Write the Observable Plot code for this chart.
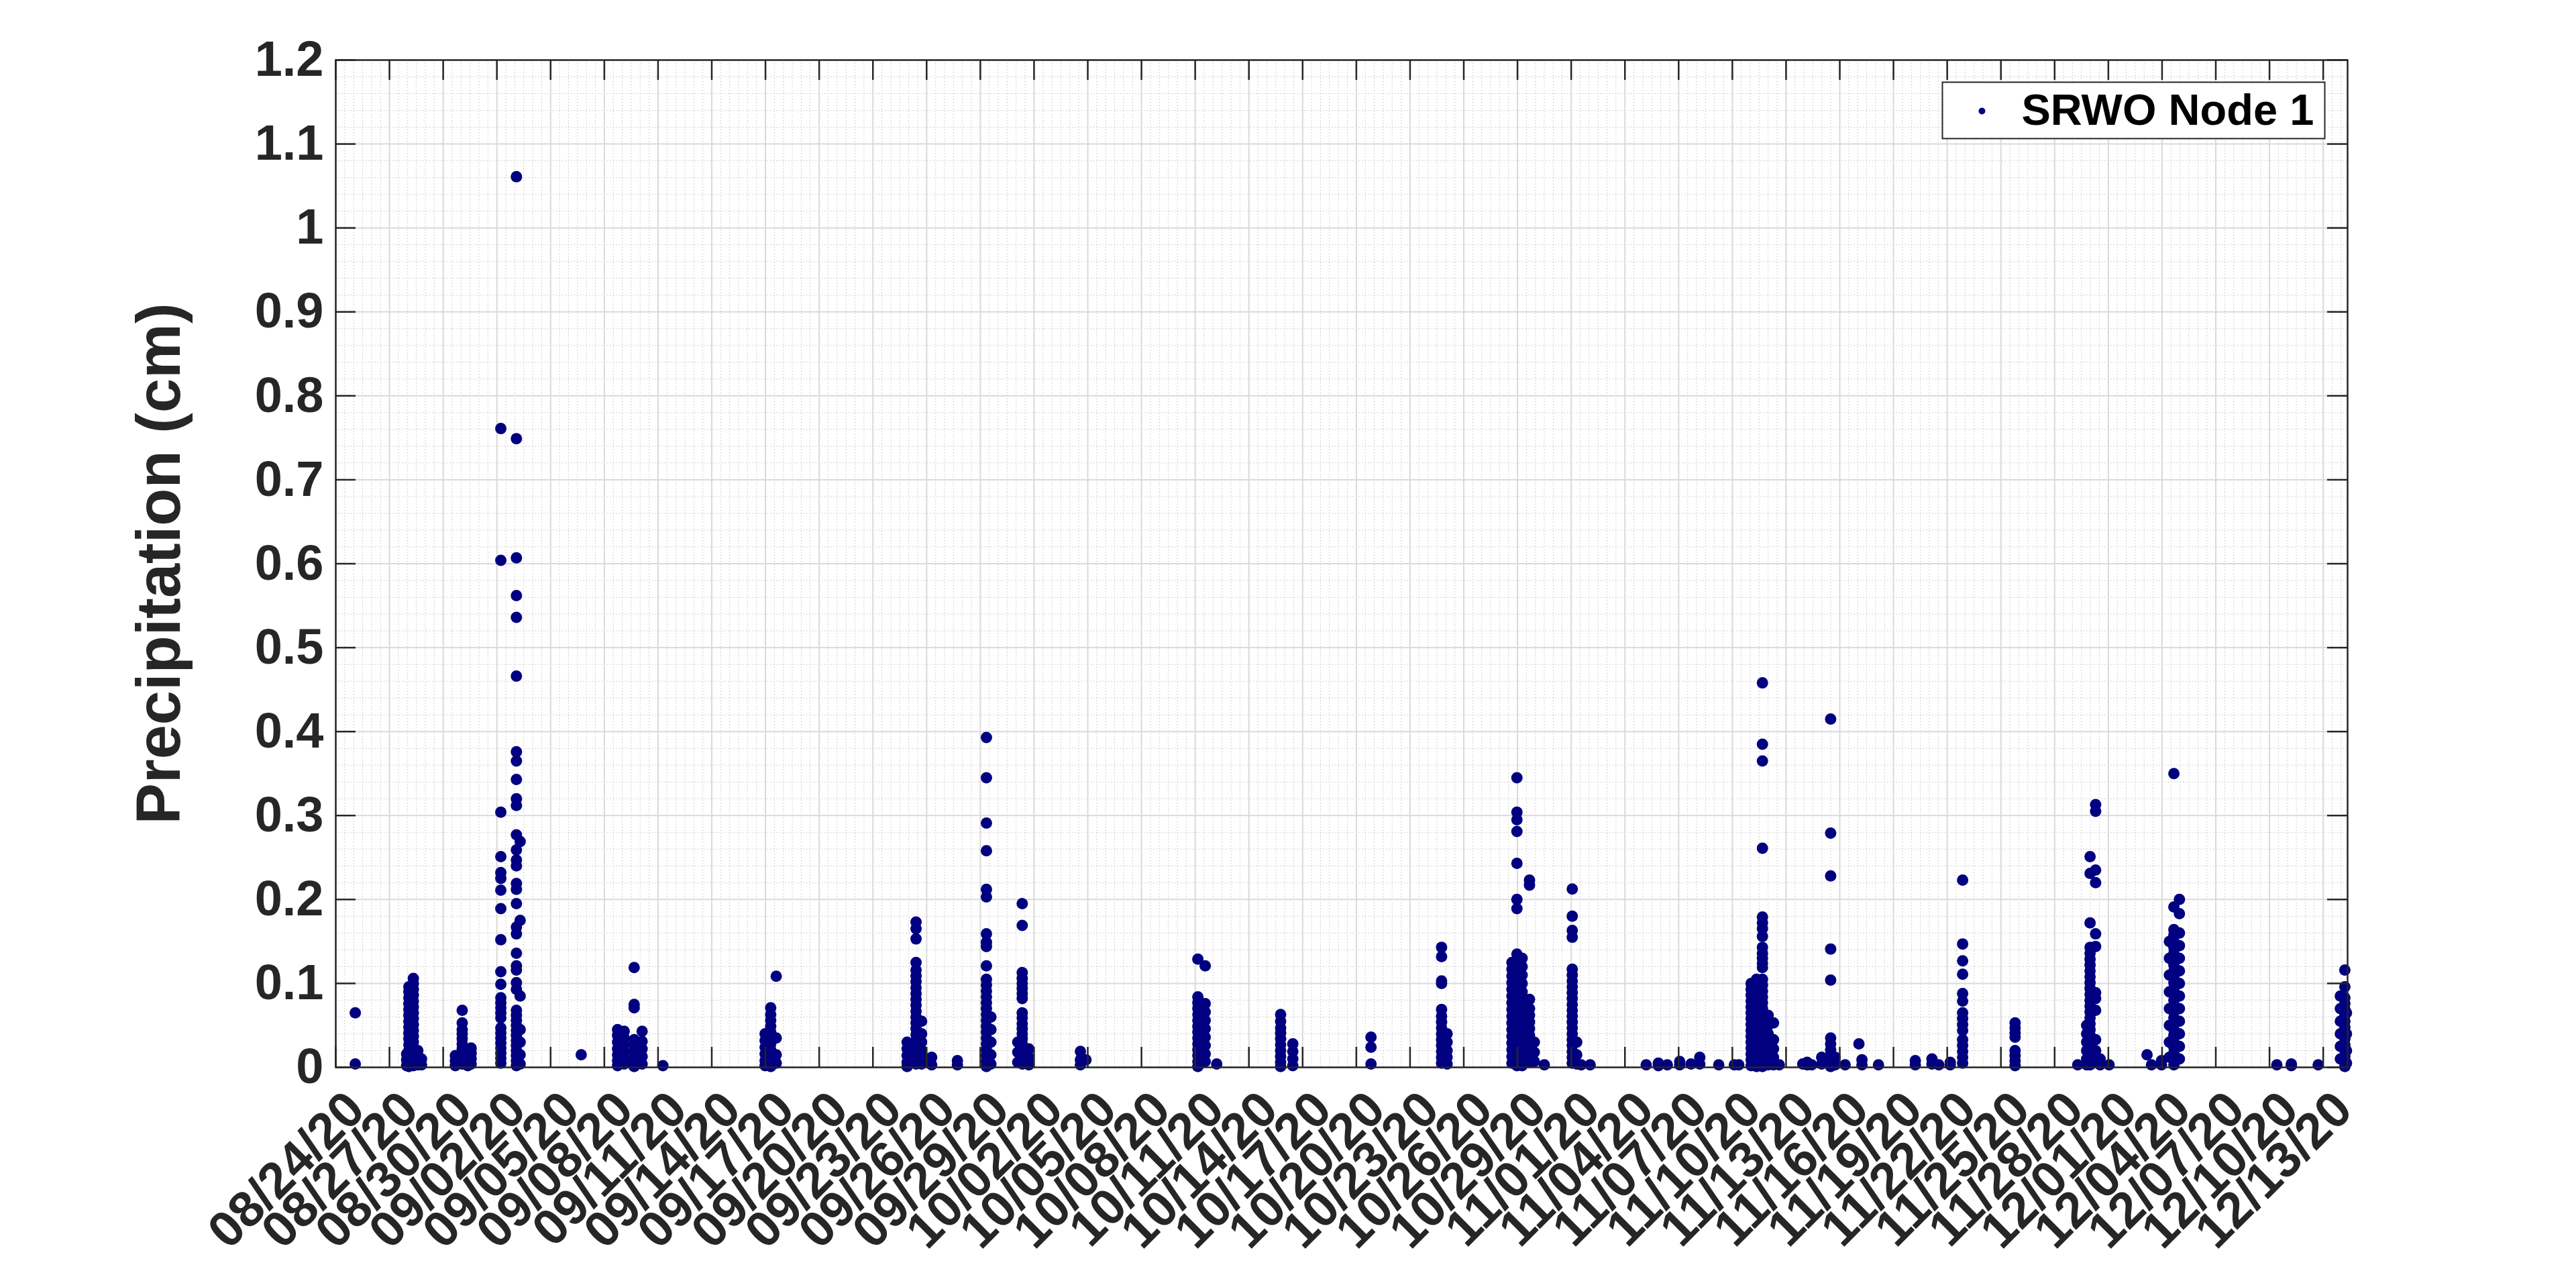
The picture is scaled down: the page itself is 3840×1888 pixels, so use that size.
<!DOCTYPE html>
<html><head><meta charset="utf-8">
<script src="https://cdn.jsdelivr.net/npm/d3@7"></script>
<script src="https://cdn.jsdelivr.net/npm/@observablehq/plot@0.6"></script>
<style>html,body{margin:0;padding:0;background:#fff;overflow:hidden;}</style>
</head><body><div id="chart"></div>
<script>
// ---------------- DATA ----------------
const seriesName = "SRWO Node 1";
const yAxisLabel = "Precipitation (cm)";

const augTimes = ["2020-08-25T02:10","2020-08-27T23:00","2020-08-28T02:00","2020-08-28T08:00","2020-08-28T14:00","2020-08-28T19:00","2020-08-30T16:20","2020-08-31T01:30","2020-08-31T09:00","2020-08-31T13:30"];
const augValues = [
  [0.065, 0.004],
  [0.002, 0.009, 0.016],
  [0.096, 0.09, 0.083, 0.076, 0.069, 0.062, 0.055, 0.048, 0.041, 0.034, 0.027, 0.02, 0.013, 0.006, 0.001],
  [0.106, 0.1, 0.093, 0.086, 0.079, 0.072, 0.065, 0.058, 0.051, 0.044, 0.037, 0.03, 0.023, 0.016, 0.009, 0.002],
  [0.02, 0.011, 0.003],
  [0.01, 0.003],
  [0.014, 0.008, 0.002],
  [0.068, 0.053, 0.045, 0.04, 0.034, 0.028, 0.022, 0.016, 0.01, 0.004],
  [0.015, 0.008, 0.002],
  [0.023, 0.017, 0.01, 0.004]
];

const sepTimes = ["2020-09-02T05:15","2020-09-03T02:10","2020-09-03T07:10","2020-09-06T17:00","2020-09-08T17:45","2020-09-09T02:40","2020-09-09T16:00","2020-09-10T02:40","2020-09-11T06:30","2020-09-16T23:30","2020-09-17T07:00","2020-09-17T14:25","2020-09-24T21:50","2020-09-25T09:50","2020-09-25T17:15","2020-09-26T06:45","2020-09-27T17:15","2020-09-29T08:10","2020-09-29T14:10"];
const sepValues = [
  [0.761, 0.604, 0.304, 0.251, 0.232, 0.225, 0.211, 0.189, 0.152, 0.114, 0.099, 0.083, 0.077, 0.071, 0.065, 0.059, 0.047, 0.041, 0.035, 0.029, 0.023, 0.017, 0.011, 0.005],
  [1.061, 0.749, 0.607, 0.562, 0.536, 0.466, 0.376, 0.365, 0.343, 0.32, 0.312, 0.277, 0.259, 0.247, 0.24, 0.219, 0.212, 0.195, 0.167, 0.159, 0.136, 0.121, 0.116, 0.101, 0.093, 0.068, 0.062, 0.056, 0.05, 0.044, 0.038, 0.032, 0.026, 0.02, 0.014, 0.008, 0.002],
  [0.269, 0.175, 0.085, 0.045, 0.03, 0.015, 0.004],
  [0.015],
  [0.045, 0.038, 0.03, 0.022, 0.015, 0.008, 0.002],
  [0.043, 0.035, 0.027, 0.019, 0.011, 0.004],
  [0.119, 0.075, 0.071, 0.033, 0.027, 0.02, 0.013, 0.006, 0.001],
  [0.043, 0.031, 0.022, 0.013, 0.004],
  [0.002],
  [0.04, 0.032, 0.024, 0.016, 0.008, 0.002],
  [0.071, 0.063, 0.056, 0.049, 0.042, 0.035, 0.028, 0.021, 0.014, 0.007, 0.001],
  [0.1085, 0.035, 0.015, 0.005],
  [0.03, 0.022, 0.014, 0.006, 0.001],
  [0.173, 0.165, 0.153, 0.125, 0.116, 0.109, 0.102, 0.095, 0.088, 0.081, 0.074, 0.067, 0.06, 0.053, 0.046, 0.039, 0.032, 0.025, 0.018, 0.011, 0.004],
  [0.055, 0.04, 0.03, 0.02, 0.012, 0.004],
  [0.012, 0.003],
  [0.008, 0.003],
  [0.393, 0.345, 0.291, 0.258, 0.212, 0.203, 0.159, 0.149, 0.144, 0.121, 0.105, 0.098, 0.091, 0.084, 0.077, 0.07, 0.063, 0.056, 0.049, 0.042, 0.035, 0.028, 0.021, 0.014, 0.007, 0.001],
  [0.06, 0.045, 0.03, 0.015, 0.004]
];

const octTimes = ["2020-10-01T02:10","2020-10-01T08:10","2020-10-01T17:00","2020-10-04T14:10","2020-10-04T21:35","2020-10-11T03:35","2020-10-11T13:25","2020-10-12T04:50","2020-10-15T18:30","2020-10-16T10:50","2020-10-20T19:40","2020-10-24T18:15","2020-10-25T01:40","2020-10-28T16:35","2020-10-28T23:15","2020-10-29T06:15","2020-10-29T16:05","2020-10-29T22:35","2020-10-30T12:00"];
const octValues = [
  [0.03, 0.018, 0.006],
  [0.195, 0.169, 0.113, 0.106, 0.1, 0.094, 0.088, 0.082, 0.065, 0.059, 0.052, 0.046, 0.04, 0.034, 0.028, 0.022, 0.016, 0.01, 0.004],
  [0.022, 0.012, 0.003],
  [0.019, 0.009, 0.003],
  [0.009],
  [0.129, 0.084, 0.077, 0.07, 0.063, 0.056, 0.049, 0.042, 0.035, 0.028, 0.021, 0.014, 0.007, 0.001],
  [0.121, 0.076, 0.066, 0.056, 0.046, 0.036, 0.026, 0.016, 0.007],
  [0.004],
  [0.063, 0.055, 0.047, 0.041, 0.034, 0.027, 0.02, 0.013, 0.006, 0.001],
  [0.028, 0.019, 0.01, 0.002],
  [0.036, 0.024, 0.004],
  [0.143, 0.132, 0.103, 0.1, 0.069, 0.061, 0.054, 0.047, 0.04, 0.033, 0.026, 0.019, 0.012, 0.005],
  [0.04, 0.03, 0.02, 0.012, 0.004],
  [0.125, 0.117, 0.109, 0.101, 0.093, 0.085, 0.077, 0.069, 0.061, 0.053, 0.045, 0.037, 0.029, 0.021, 0.013, 0.005],
  [0.345, 0.304, 0.295, 0.281, 0.243, 0.2, 0.189, 0.135, 0.128, 0.121, 0.114, 0.107, 0.1, 0.093, 0.086, 0.079, 0.072, 0.065, 0.058, 0.051, 0.044, 0.037, 0.03, 0.023, 0.016, 0.009, 0.002],
  [0.13, 0.12, 0.11, 0.1, 0.09, 0.08, 0.07, 0.06, 0.05, 0.04, 0.03, 0.02, 0.01, 0.002],
  [0.223, 0.217, 0.081, 0.07, 0.062, 0.054, 0.046, 0.038, 0.03, 0.022, 0.014, 0.006],
  [0.03, 0.018, 0.007],
  [0.003]
];

const novTimes = ["2020-11-01T01:25","2020-11-01T07:25","2020-11-01T13:25","2020-11-02T01:25","2020-11-05T04:30","2020-11-05T20:50","2020-11-06T08:50","2020-11-07T01:25","2020-11-07T16:35","2020-11-08T04:20","2020-11-09T05:45","2020-11-10T02:40","2020-11-10T08:40","2020-11-11T01:10","2020-11-11T08:25","2020-11-11T16:20","2020-11-12T00:00","2020-11-12T07:10","2020-11-12T14:50","2020-11-13T22:20","2020-11-14T04:20","2020-11-14T10:20","2020-11-14T23:45","2020-11-15T11:45","2020-11-15T17:45","2020-11-16T07:10","2020-11-17T01:40","2020-11-17T05:45","2020-11-18T03:50","2020-11-20T05:15","2020-11-21T03:35","2020-11-21T12:45","2020-11-22T04:05","2020-11-22T20:40","2020-11-25T19:00","2020-11-29T06:55","2020-11-29T18:55","2020-11-29T23:30","2020-11-30T06:55","2020-11-30T13:00"];
const novValues = [
  [0.2125, 0.18, 0.163, 0.155, 0.117, 0.11, 0.103, 0.096, 0.089, 0.082, 0.075, 0.068, 0.061, 0.054, 0.047, 0.04, 0.033, 0.026, 0.019, 0.012, 0.005],
  [0.03, 0.015, 0.004],
  [0.003],
  [0.003],
  [0.003],
  [0.005, 0.002],
  [0.003],
  [0.007, 0.003],
  [0.004],
  [0.012, 0.004],
  [0.003],
  [0.003],
  [0.003],
  [0.1, 0.093, 0.086, 0.079, 0.072, 0.065, 0.058, 0.051, 0.044, 0.037, 0.03, 0.023, 0.016, 0.009, 0.002],
  [0.105, 0.098, 0.091, 0.084, 0.077, 0.07, 0.063, 0.056, 0.049, 0.042, 0.035, 0.028, 0.021, 0.014, 0.007, 0.001],
  [0.458, 0.385, 0.365, 0.261, 0.179, 0.172, 0.165, 0.156, 0.143, 0.136, 0.13, 0.124, 0.119, 0.105, 0.098, 0.091, 0.084, 0.077, 0.07, 0.063, 0.056, 0.049, 0.042, 0.035, 0.028, 0.021, 0.014, 0.007, 0.001],
  [0.062, 0.05, 0.04, 0.03, 0.02, 0.01, 0.003],
  [0.053, 0.033, 0.022, 0.012, 0.003],
  [0.003],
  [0.004],
  [0.006, 0.003],
  [0.003],
  [0.012, 0.004],
  [0.415, 0.279, 0.228, 0.141, 0.104, 0.035, 0.028, 0.021, 0.014, 0.007, 0.001],
  [0.012, 0.003],
  [0.003],
  [0.028],
  [0.009, 0.003],
  [0.003],
  [0.008, 0.003],
  [0.01, 0.004],
  [0.003],
  [0.006, 0.003],
  [0.223, 0.147, 0.127, 0.111, 0.088, 0.079, 0.065, 0.058, 0.051, 0.044, 0.033, 0.026, 0.019, 0.012, 0.005],
  [0.053, 0.047, 0.041, 0.036, 0.02, 0.014, 0.008, 0.002],
  [0.003],
  [0.05, 0.04, 0.03, 0.02, 0.01, 0.003],
  [0.251, 0.231, 0.172, 0.143, 0.136, 0.129, 0.122, 0.115, 0.108, 0.101, 0.094, 0.087, 0.08, 0.073, 0.066, 0.059, 0.052, 0.045, 0.038, 0.031, 0.024, 0.017, 0.01, 0.003],
  [0.313, 0.305, 0.235, 0.22, 0.159, 0.144, 0.089, 0.082, 0.068, 0.033, 0.02, 0.008],
  [0.01, 0.003]
];

const decTimes = ["2020-12-01T01:00","2020-12-03T03:50","2020-12-03T09:50","2020-12-03T23:15","2020-12-04T09:50","2020-12-04T15:50","2020-12-04T23:15","2020-12-10T09:50","2020-12-11T05:15","2020-12-12T17:15","2020-12-13T23:00","2020-12-14T05:00","2020-12-14T07:10"];
const decValues = [
  [0.003],
  [0.015],
  [0.003],
  [0.008, 0.003],
  [0.15, 0.13, 0.11, 0.09, 0.07, 0.05, 0.03, 0.012],
  [0.35, 0.191, 0.164, 0.157, 0.15, 0.143, 0.136, 0.129, 0.122, 0.115, 0.108, 0.101, 0.094, 0.087, 0.08, 0.073, 0.066, 0.059, 0.052, 0.045, 0.038, 0.031, 0.024, 0.017, 0.01, 0.003],
  [0.2, 0.183, 0.16, 0.145, 0.13, 0.115, 0.1, 0.085, 0.07, 0.055, 0.04, 0.025, 0.01],
  [0.003],
  [0.004, 0.002],
  [0.003],
  [0.085, 0.07, 0.055, 0.04, 0.025, 0.01],
  [0.116, 0.096, 0.083, 0.076, 0.069, 0.062, 0.055, 0.048, 0.041, 0.034, 0.027, 0.02, 0.013, 0.006, 0.001],
  [0.065, 0.04, 0.02, 0.005]
];

const xTickLabels = ["08/24/20","08/27/20","08/30/20","09/02/20","09/05/20","09/08/20","09/11/20","09/14/20","09/17/20","09/20/20","09/23/20","09/26/20","09/29/20","10/02/20","10/05/20","10/08/20","10/11/20","10/14/20","10/17/20","10/20/20","10/23/20","10/26/20","10/29/20","11/01/20","11/04/20","11/07/20","11/10/20","11/13/20","11/16/20","11/19/20","11/22/20","11/25/20","11/28/20","12/01/20","12/04/20","12/07/20","12/10/20","12/13/20"];
const yTickValues = [0, 0.1, 0.2, 0.3, 0.4, 0.5, 0.6, 0.7, 0.8, 0.9, 1, 1.1, 1.2];
const yTickLabels = ["0","0.1","0.2","0.3","0.4","0.5","0.6","0.7","0.8","0.9","1","1.1","1.2"];
const xLimits = ["2020-08-24T00:00","2020-12-14T08:40"];
const yLimits = [0, 1.2];

// ---------------- BUILD ----------------
const parseT = s => new Date(s + ":00Z");
const points = [];
[[augTimes, augValues],[sepTimes, sepValues],[octTimes, octValues],[novTimes, novValues],[decTimes, decValues]]
  .forEach(([ts, vs]) => ts.forEach((t, i) => vs[i].forEach(v => points.push({date: parseT(t), value: v}))));

const parseLabel = d3.utcParse("%m/%d/%y");
const xTicks = xTickLabels.map(parseLabel);
const xDomain = xLimits.map(parseT);
const majorSet = new Set(xTicks.map(d => +d));
const minorX = d3.utcHour.every(12).range(xDomain[0], xDomain[1]).filter(d => !majorSet.has(+d));
const minorY = d3.range(1, 60).filter(i => i % 5 !== 0).map(i => i * 0.02);

const W = 3840, H = 1888, ML = 500, MR = 341, MT = 89, MB = 298;
const innerW = W - ML - MR, innerH = H - MT - MB;
const axisColor = "#262626";
const dotColor = "#000080";
const font = "'Liberation Sans', Arial, Helvetica, sans-serif";

const chart = Plot.plot({
  width: W, height: H,
  marginLeft: ML, marginRight: MR, marginTop: MT, marginBottom: MB,
  style: {background: "#ffffff", fontFamily: font, color: axisColor, overflow: "visible"},
  x: {type: "utc", domain: xDomain, axis: null},
  y: {type: "linear", domain: yLimits, axis: null},
  marks: [
    Plot.ruleX(minorX, {stroke: "#c4c4c4", strokeWidth: 1, strokeDasharray: "1.5,3"}),
    Plot.ruleY(minorY, {stroke: "#c4c4c4", strokeWidth: 1, strokeDasharray: "1.5,3"}),
    Plot.ruleX(xTicks, {stroke: "#dadada", strokeWidth: 2}),
    Plot.ruleY(yTickValues, {stroke: "#dadada", strokeWidth: 2}),
    Plot.dot(points, {x: "date", y: "value", r: 8.5, fill: dotColor, stroke: null}),
    Plot.frame({stroke: axisColor, strokeWidth: 2.5}),
    Plot.tickX(xTicks, {x: d => d, insetTop: innerH - 30, stroke: axisColor, strokeWidth: 2.5}),
    Plot.tickX(xTicks, {x: d => d, insetBottom: innerH - 30, stroke: axisColor, strokeWidth: 2.5}),
    Plot.tickY(yTickValues, {y: d => d, insetRight: innerW - 30, stroke: axisColor, strokeWidth: 2.5}),
    Plot.tickY(yTickValues, {y: d => d, insetLeft: innerW - 30, stroke: axisColor, strokeWidth: 2.5}),
    Plot.text(yTickValues, {y: d => d, frameAnchor: "left", text: (d, i) => yTickLabels[i], textAnchor: "end", lineAnchor: "middle", dx: -18, fontSize: 74, fontWeight: "bold", fill: axisColor}),
    Plot.text(xTicks, {x: d => d, frameAnchor: "bottom", text: (d, i) => xTickLabels[i], rotate: -45, textAnchor: "end", lineAnchor: "middle", dx: 30, dy: 50, fontSize: 75, fontWeight: "bold", fill: axisColor}),
    Plot.text([yAxisLabel], {frameAnchor: "left", dx: -262, rotate: -90, textAnchor: "middle", lineAnchor: "middle", fontSize: 92, fontWeight: "bold", fill: axisColor}),
    Plot.frame({insetLeft: 2895 - ML, insetRight: (W - MR) - 3465, insetTop: 122 - MT, insetBottom: (H - MB) - 206, fill: "#ffffff", stroke: axisColor, strokeWidth: 2}),
    Plot.dot([seriesName], {frameAnchor: "top-left", dx: 2954 - ML, dy: 165 - MT, r: 5, fill: dotColor, stroke: null}),
    Plot.text([seriesName], {frameAnchor: "top-left", dx: 3013 - ML, dy: 165 - MT, text: d => d, textAnchor: "start", lineAnchor: "middle", fontSize: 65, fontWeight: "bold", fill: "#000000"})
  ]
});
document.getElementById("chart").appendChild(chart);
</script>
</body></html>
